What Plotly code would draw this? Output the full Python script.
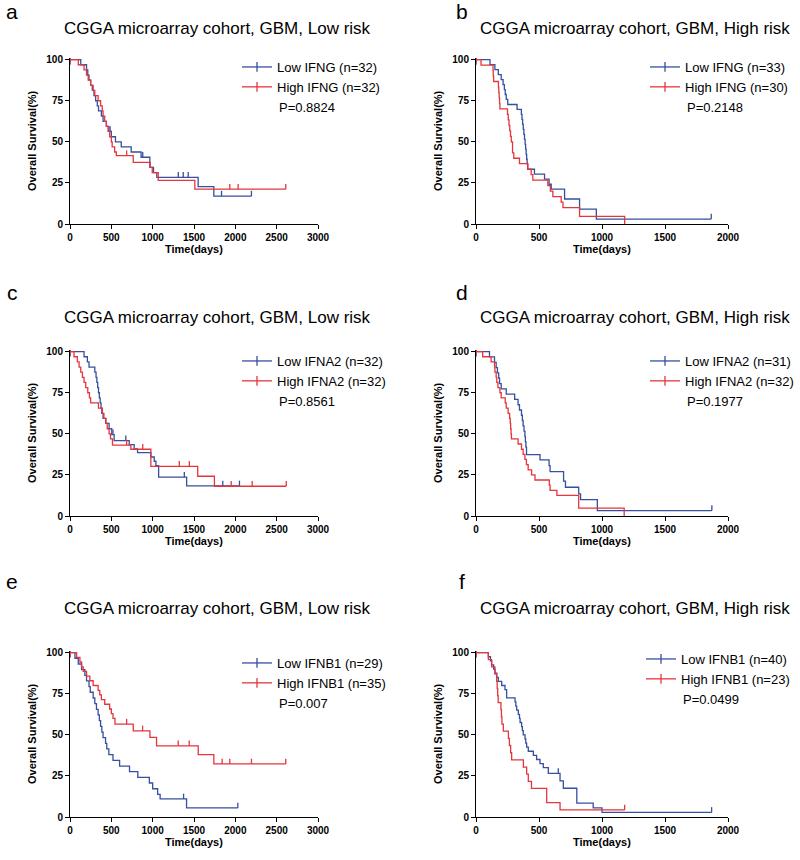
import plotly.graph_objects as go

W, H = 800, 860
BLUE = '#34509f'
RED = '#e5353d'
FONT = 'Arial, Liberation Sans, sans-serif'

# ---------------- data (days, survival %) ----------------
# Panel a: IFNG, low risk
A_LOW_T = [130, 200, 215, 230, 250, 270, 290, 310, 330, 345, 380, 400, 440, 470, 500, 550, 620, 740, 860, 966, 1010, 1050, 1550, 1740]
A_LOW_S = [96.9, 93.8, 90.6, 87.5, 84.4, 81.3, 78.1, 75.0, 71.9, 68.8, 65.6, 62.5, 59.4, 56.3, 53.1, 50.0, 46.9, 43.8, 40.6, 34.4, 31.3, 28.4, 22.7, 17.0]
A_LOW_C = [485, 880, 1310, 1370, 1430, 1833, 2195]
A_HIGH_T = [100, 170, 200, 220, 250, 280, 300, 340, 370, 390, 400, 420, 440, 460, 480, 500, 510, 540, 560, 765, 970, 995, 1067, 1510]
A_HIGH_S = [96.9, 93.8, 90.6, 87.5, 84.4, 81.3, 78.1, 75.0, 71.9, 68.8, 65.6, 62.5, 59.4, 56.3, 53.1, 50.0, 46.9, 43.8, 41.6, 37.5, 34.4, 31.3, 26.6, 21.2]
A_HIGH_C = [685, 1933, 2034, 2610]

# Panel b: IFNG, high risk
B_LOW_T = [111, 150, 177, 200, 215, 225, 232, 240, 252, 326, 360, 365, 370, 375, 380, 385, 390, 394, 398, 402, 406, 410, 464, 544, 580, 597, 703, 822, 955]
B_LOW_S = [97.0, 93.9, 90.9, 87.9, 84.8, 81.8, 78.8, 75.8, 72.7, 69.7, 66.7, 63.6, 60.6, 57.6, 54.5, 51.5, 48.5, 45.5, 42.4, 39.4, 36.4, 33.3, 30.3, 27.3, 24.2, 21.2, 15.2, 9.1, 3.0]
B_LOW_C = [1867]
B_HIGH_T = [40, 135, 137, 140, 178, 181, 184, 187, 190, 250, 256, 262, 268, 274, 280, 290, 300, 345, 411, 438, 451, 570, 590, 610, 676, 690, 822, 1180]
B_HIGH_S = [96.7, 93.3, 90.0, 86.7, 83.3, 80.0, 76.7, 73.3, 70.0, 66.7, 63.3, 60.0, 56.7, 53.3, 50.0, 43.3, 40.0, 36.7, 33.3, 30.0, 26.7, 23.3, 20.0, 16.7, 13.3, 10.0, 4.6, 0.0]
B_HIGH_C = []

# Panel c: IFNA2, low risk
C_LOW_T = [170, 210, 230, 300, 315, 325, 335, 345, 355, 365, 375, 385, 400, 433, 473, 505, 534, 716, 776, 817, 978, 1019, 1039, 1072, 1411]
C_LOW_S = [96.9, 93.8, 90.6, 87.5, 84.4, 81.3, 78.1, 75.0, 71.9, 68.8, 65.6, 62.5, 59.4, 56.3, 53.1, 49.5, 45.8, 43.4, 40.9, 38.5, 35.9, 33.3, 30.7, 23.6, 18.3]
C_LOW_C = [520, 675, 1383, 1848, 2050]
C_HIGH_T = [48, 89, 110, 130, 150, 170, 190, 215, 235, 250, 344, 392, 410, 433, 450, 473, 490, 514, 736, 978, 1545, 1747]
C_HIGH_S = [96.9, 93.8, 90.6, 87.5, 84.4, 81.3, 78.1, 75.0, 71.9, 68.8, 65.6, 62.5, 59.4, 56.3, 53.1, 50.0, 46.9, 43.1, 40.6, 30.2, 24.2, 18.1]
C_HIGH_C = [685, 880, 1322, 1444, 1950, 2204, 2616]

# Panel d: IFNA2, high risk
D_LOW_T = [107, 147, 160, 170, 180, 187, 200, 240, 307, 334, 345, 361, 368, 374, 381, 388, 392, 396, 401, 508, 580, 588, 695, 710, 815, 830, 963]
D_LOW_S = [96.8, 93.5, 90.3, 87.1, 83.9, 80.6, 77.4, 74.2, 71.0, 67.7, 64.5, 61.3, 58.1, 54.8, 51.6, 48.4, 45.2, 41.9, 37.4, 34.2, 30.6, 27.0, 21.2, 17.5, 13.5, 10.0, 3.3]
D_LOW_C = [1872]
D_HIGH_T = [53, 120, 147, 150, 160, 165, 174, 190, 200, 232, 240, 255, 267, 272, 275, 278, 281, 334, 361, 374, 388, 400, 414, 441, 468, 582, 588, 642, 815, 1176]
D_HIGH_S = [96.9, 93.8, 90.6, 87.5, 84.4, 81.3, 78.1, 75.0, 71.9, 68.8, 65.6, 62.5, 59.4, 56.3, 53.1, 50.0, 46.9, 43.8, 40.6, 37.5, 34.4, 31.3, 28.1, 25.0, 21.9, 18.8, 15.6, 12.5, 4.8, 0.0]
D_HIGH_C = []

# Panel e: IFNB1, low risk
E_LOW_T = [60, 100, 140, 180, 200, 230, 245, 280, 300, 320, 340, 355, 370, 385, 400, 430, 445, 470, 520, 600, 720, 820, 960, 1000, 1060, 1090, 1410]
E_LOW_S = [96.6, 93.1, 89.7, 86.2, 82.8, 79.3, 75.9, 72.4, 69.0, 65.5, 62.1, 58.6, 55.2, 51.7, 48.3, 44.8, 41.4, 37.9, 34.5, 31.0, 27.6, 24.1, 20.7, 17.2, 13.8, 11.0, 5.5]
E_LOW_C = [1374, 2030]
E_HIGH_T = [80, 120, 140, 160, 200, 240, 280, 340, 360, 380, 420, 480, 500, 520, 544, 765, 967, 1047, 1551, 1740]
E_HIGH_S = [97.1, 94.3, 91.4, 88.6, 85.7, 82.9, 80.0, 77.1, 74.3, 71.4, 68.6, 65.7, 62.9, 60.0, 56.5, 52.4, 48.4, 43.3, 37.9, 32.3]
E_HIGH_C = [685, 878, 1309, 1442, 1840, 1933, 2195, 2610]

# Panel f: IFNB1, high risk
F_LOW_T = [98, 115, 124, 140, 151, 165, 177, 204, 230, 243, 310, 316, 323, 336, 345, 350, 362, 368, 375, 389, 395, 402, 415, 455, 481, 508, 534, 574, 667, 693, 800, 930, 1000]
F_LOW_S = [97.5, 95.0, 92.5, 90.0, 87.5, 85.0, 82.5, 80.0, 77.5, 72.5, 70.0, 67.5, 65.0, 62.5, 60.0, 57.5, 55.0, 52.5, 50.0, 47.5, 45.0, 42.5, 40.0, 37.5, 35.0, 32.5, 30.0, 26.5, 22.0, 17.5, 8.4, 5.6, 2.8]
F_LOW_C = [653, 1870]
F_HIGH_T = [98, 124, 150, 164, 168, 172, 176, 198, 202, 206, 217, 257, 265, 275, 283, 376, 402, 415, 440, 561, 667]
F_HIGH_S = [95.7, 91.3, 87.0, 82.6, 78.3, 73.9, 69.6, 65.2, 60.9, 56.5, 52.2, 47.8, 43.5, 39.1, 34.8, 30.4, 26.1, 21.7, 17.4, 8.7, 4.3]
F_HIGH_C = [1180]

LETTERS = ['a', 'b', 'c', 'd', 'e', 'f']
TITLES = ['CGGA microarray cohort, GBM, Low risk', 'CGGA microarray cohort, GBM, High risk'] * 3
LOW_NAMES = ['Low IFNG (n=32)', 'Low IFNG (n=33)', 'Low IFNA2 (n=32)', 'Low IFNA2 (n=31)', 'Low IFNB1 (n=29)', 'Low IFNB1 (n=40)']
HIGH_NAMES = ['High IFNG (n=32)', 'High IFNG (n=30)', 'High IFNA2 (n=32)', 'High IFNA2 (n=32)', 'High IFNB1 (n=35)', 'High IFNB1 (n=23)']
P_VALUES = ['P=0.8824', 'P=0.2148', 'P=0.8561', 'P=0.1977', 'P=0.007', 'P=0.0499']
X_MAX = [3000, 2000, 3000, 2000, 3000, 2000]

SERIES = [
    ((A_LOW_T, A_LOW_S, A_LOW_C), (A_HIGH_T, A_HIGH_S, A_HIGH_C)),
    ((B_LOW_T, B_LOW_S, B_LOW_C), (B_HIGH_T, B_HIGH_S, B_HIGH_C)),
    ((C_LOW_T, C_LOW_S, C_LOW_C), (C_HIGH_T, C_HIGH_S, C_HIGH_C)),
    ((D_LOW_T, D_LOW_S, D_LOW_C), (D_HIGH_T, D_HIGH_S, D_HIGH_C)),
    ((E_LOW_T, E_LOW_S, E_LOW_C), (E_HIGH_T, E_HIGH_S, E_HIGH_C)),
    ((F_LOW_T, F_LOW_S, F_LOW_C), (F_HIGH_T, F_HIGH_S, F_HIGH_C)),
]

# ---------------- layout geometry (pixels) ----------------
BOXES = [
    (70, 58, 318, 224), (476, 58, 728, 224),
    (70, 350, 318, 516), (476, 350, 728, 516),
    (70, 651, 318, 817), (476, 651, 728, 817),
]
LETTER_POS = [(12, 12), (462, 12), (12, 292), (462, 292), (12, 581), (462, 581)]
TITLE_X = [217, 635, 217, 635, 217, 635]
TITLE_Y = [28, 28, 318, 318, 608, 608]
LEG_TEXT_X = [277, 685, 277, 685, 277, 681]
LEG_TOP_Y = [68, 68, 362, 362, 664, 660]
CENSOR_TICK = 3.2  # upward tick length of censor marks, in % units


def fx(px):
    return px / W


def fy(py):
    return 1 - py / H


def level_at(ts, ss, t):
    v = 100.0
    for ti, si in zip(ts, ss):
        if ti <= t:
            v = si
    return v


fig = go.Figure()
layout = dict(
    width=W, height=H, margin=dict(l=0, r=0, t=0, b=0, autoexpand=False),
    paper_bgcolor='white', plot_bgcolor='white',
    font=dict(family=FONT, color='black'),
)
annotations = []
CLEAR = 'rgba(0,0,0,0)'

for i in range(6):
    k = '' if i == 0 else str(i + 1)
    x0, y0, x1, y1 = BOXES[i]
    axis_common = dict(showline=True, linecolor='black', linewidth=1, ticks='outside',
                       ticklen=4, tickwidth=1, tickcolor='black', showgrid=False, zeroline=False,
                       tickfont=dict(family=FONT, size=10, color='black', weight='bold'),
                       fixedrange=True, automargin=False)
    layout['xaxis' + k] = dict(domain=[fx(x0), fx(x1)], anchor='y' + k, range=[0, X_MAX[i]],
                               tick0=0, dtick=500, **axis_common)
    layout['yaxis' + k] = dict(domain=[fy(y1), fy(y0)], anchor='x' + k, range=[0, 101],
                               tickvals=[0, 25, 50, 75, 100], **axis_common)
    legkey = 'legend' + k
    layout[legkey] = dict(x=fx(LEG_TEXT_X[i] - 40), y=fy(LEG_TOP_Y[i] - 16), xanchor='left', yanchor='top',
                          bgcolor=CLEAR, borderwidth=0, tracegroupgap=0,
                          font=dict(family=FONT, size=13, color='black'), itemwidth=30)

    for (ts, ss, cs), color, name in zip(SERIES[i], (BLUE, RED), (LOW_NAMES[i], HIGH_NAMES[i])):
        # merge death steps and censor marks into one step path
        pts = [(0, 100.0, 'start')]
        pts += [(t, s, 'event') for t, s in zip(ts, ss)]
        pts += [(c, level_at(ts, ss, c), 'censor') for c in cs]
        pts.sort(key=lambda p: p[0])
        xs = [p[0] for p in pts]
        ys = [p[1] for p in pts]
        # marker only carries the legend symbol (first point sits on the y-axis line)
        mcol = [color if p[2] == 'start' else CLEAR for p in pts]
        # censor marks drawn as upward ticks
        up = [CENSOR_TICK if p[2] == 'censor' else 0 for p in pts]
        fig.add_trace(go.Scatter(
            x=xs, y=ys, mode='lines+markers', name=name,
            line=dict(color=color, width=1.3, shape='hv'),
            marker=dict(symbol='line-ns', size=7, color=mcol,
                        line=dict(color=mcol, width=1.3)),
            error_y=dict(type='data', symmetric=False, array=up, arrayminus=[0] * len(up),
                         width=0, thickness=1.3, color=color),
            xaxis='x' + k, yaxis='y' + k, legend=legkey, showlegend=True, hoverinfo='skip'))

    # P value
    annotations.append(dict(text=P_VALUES[i], x=fx(LEG_TEXT_X[i]), y=fy(LEG_TOP_Y[i] + 39),
                            xref='paper', yref='paper', xanchor='left', yanchor='middle',
                            showarrow=False, font=dict(family=FONT, size=13, color='black')))
    # panel letter
    lx, ly = LETTER_POS[i]
    annotations.append(dict(text=LETTERS[i], x=fx(lx), y=fy(ly), xref='paper', yref='paper',
                            xanchor='center', yanchor='middle', showarrow=False,
                            font=dict(family=FONT, size=21, color='black')))
    # title
    annotations.append(dict(text=TITLES[i], x=fx(TITLE_X[i]), y=fy(TITLE_Y[i]),
                            xref='paper', yref='paper', xanchor='center', yanchor='middle',
                            showarrow=False, font=dict(family=FONT, size=17, color='black')))
    # axis titles
    annotations.append(dict(text='Time(days)', x=fx((x0 + x1) / 2), y=fy(y1 + 25),
                            xref='paper', yref='paper', xanchor='center', yanchor='middle',
                            showarrow=False, font=dict(family=FONT, size=11, color='black', weight='bold')))
    annotations.append(dict(text='Overall Survival(%)', x=fx(x0 - 38), y=fy((y0 + y1) / 2),
                            xref='paper', yref='paper', xanchor='center', yanchor='middle',
                            textangle=-90, showarrow=False,
                            font=dict(family=FONT, size=11, color='black', weight='bold')))

layout['annotations'] = annotations
fig.update_layout(**layout)
fig.write_html('out.html', config={'displayModeBar': False},
               post_script="document.body.style.margin='0';")
